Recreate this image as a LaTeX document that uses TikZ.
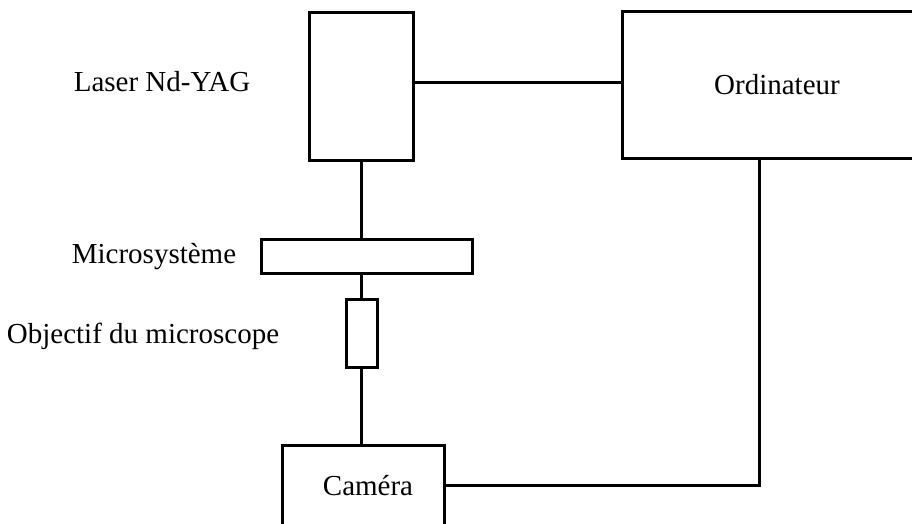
\documentclass[tikz,border=0pt]{standalone}
\usepackage{fontspec}
\setmainfont{Liberation Serif}
\begin{document}
\begin{tikzpicture}[x=1pt,y=-1pt,
  box/.style={draw=black, line width=3pt, fill=white, inner sep=0pt, minimum width=#1},
  wire/.style={draw=black, line width=3pt},
  lbl/.style={inner sep=0pt, anchor=base, font=\fontsize{29}{35}\selectfont}]
\useasboundingbox (0,0) rectangle (912,524);
\clip (0,0) rectangle (912,524);
% boxes
\node[box=104pt, minimum height=147pt] (laser) at (361,86.5) {};
\node[box=310pt, minimum height=146pt, font=\fontsize{29}{35}\selectfont] (ordi) at (777,85) {Ordinateur};
\node[box=211pt, minimum height=34pt] (micro) at (366.5,256) {};
\node[box=31pt, minimum height=68pt] (obj) at (361.5,333) {};
\node[box=162pt, minimum height=82pt, font=\fontsize{29}{35}\selectfont] (cam) at (363,486) {\hspace{10pt}Caméra};
% labels
\node[lbl] (llaser) at (162,92) {Laser Nd-YAG};
\node[lbl] (lmicro) at (154,263) {Microsystème};
\node[lbl] (lobj) at (143,343) {Objectif du microscope};
% connectors
\coordinate (corner) at (759,485);
\draw[wire] (laser.east |- 0,83) -- (ordi.west |- 0,83);
\draw[wire] (laser.south) -- (laser.south |- micro.north);
\draw[wire] (laser.south |- micro.south) -- (laser.south |- obj.north);
\draw[wire] (laser.south |- obj.south) -- (laser.south |- cam.north);
\draw[wire] (cam.east |- corner) -- (corner) -- (corner |- ordi.south);
\end{tikzpicture}
\end{document}
